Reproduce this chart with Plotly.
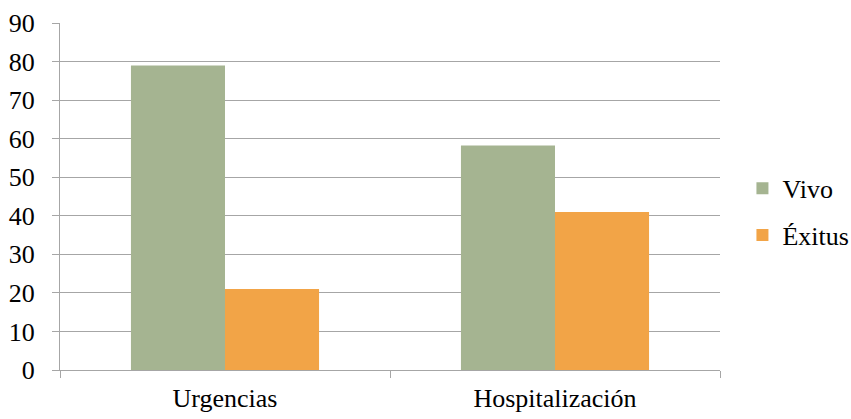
import plotly.graph_objects as go

categories = ["Urgencias", "Hospitalización"]
vivo = [79, 58.2]
exitus = [21, 41]
series_names = ["Vivo", "Éxitus"]
y_ticks = [0, 10, 20, 30, 40, 50, 60, 70, 80, 90]

FONT = "Liberation Serif"
FS = 26

fig = go.Figure()
fig.add_trace(go.Bar(x=categories, y=vivo, name=series_names[0], marker_color="#A5B491",
                     marker_line_width=0, legendgroup="a"))
fig.add_trace(go.Bar(x=categories, y=exitus, name=series_names[1], marker_color="#F2A447",
                     marker_line_width=0, legendgroup="b"))

fig.update_layout(
    width=851, height=419,
    margin=dict(l=60, r=131, t=23, b=49, autoexpand=False),
    paper_bgcolor="white", plot_bgcolor="white",
    barmode="group", bargap=0.43, bargroupgap=0,
    font=dict(family=FONT, size=FS, color="#000000"),
    legend=dict(x=1.034, xanchor="left", y=0.456, yanchor="middle",
                font=dict(family=FONT, size=FS, color="#000000"),
                tracegroupgap=10, bgcolor="rgba(0,0,0,0)"),
    showlegend=True,
)
fig.update_yaxes(range=[0, 90], tickvals=y_ticks, showgrid=True, gridcolor="#A6A6A6", gridwidth=1,
                 showline=True, linecolor="#A6A6A6", linewidth=1, ticks="outside", ticklen=7,
                 tickcolor="#A6A6A6", zeroline=False, ticklabelstandoff=12,
                 tickfont=dict(family=FONT, size=FS, color="#000000"))
fig.update_xaxes(showline=True, linecolor="#A6A6A6", linewidth=1, ticks="outside", ticklen=7,
                 tickcolor="#A6A6A6", tickson="boundaries", showgrid=False, ticklabelstandoff=5,
                 tickfont=dict(family=FONT, size=FS, color="#000000"))

fig.write_html("out.html")
